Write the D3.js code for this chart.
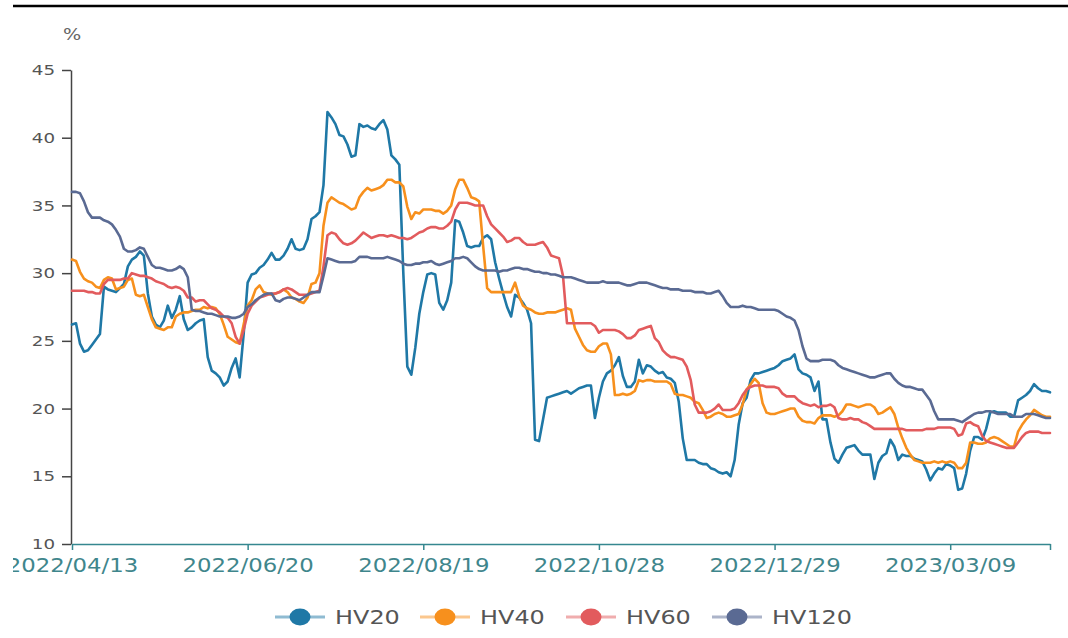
<!DOCTYPE html>
<html><head><meta charset="utf-8">
<script src="https://cdn.jsdelivr.net/npm/d3@7"></script>
<style>html,body{margin:0;padding:0;background:#fff;} svg{display:block;}</style>
</head><body>
<svg id="chart" width="1068" height="638"></svg>
<script>
// x axis: trading-day index, labelled every 44 days
const tickLabels = ["2022/04/13","2022/06/20","2022/08/19","2022/10/28","2022/12/29","2023/03/09"];
const tickDays = [0,44,88,132,176,220];
const yTicks = [10,15,20,25,30,35,40,45];
const seriesNames = ["HV20","HV40","HV60","HV120"];

const hv20 = [
26.2,26.3,24.8,24.2,24.3,24.7,25.1,25.5,29.0,28.8,
28.7,28.6,28.9,29.2,30.5,31.0,31.2,31.6,31.3,28.5,
26.8,26.2,26.0,26.5,27.6,26.7,27.3,28.3,26.6,25.8,
26.0,26.3,26.5,26.6,23.8,22.8,22.6,22.3,21.7,22.0,
23.0,23.7,22.3,25.5,29.3,29.9,30.0,30.4,30.6,31.0,
31.5,31.0,31.0,31.3,31.8,32.5,31.8,31.7,31.8,32.5,
34.0,34.2,34.5,36.5,41.9,41.5,41.0,40.2,40.1,39.5,
38.6,38.7,41.0,40.8,40.9,40.7,40.6,41.0,41.3,40.6,
38.7,38.4,38.0,30.0,23.1,22.5,24.5,27.0,28.6,29.9,
30.0,29.9,27.8,27.3,28.0,29.3,33.9,33.8,33.0,32.0,
31.9,32.0,32.0,32.6,32.8,32.5,30.8,29.6,28.5,27.5,
26.8,28.4,28.2,27.8,27.3,26.3,17.7,17.6,19.2,20.8,
20.9,21.0,21.1,21.2,21.3,21.1,21.3,21.5,21.6,21.7,
21.7,19.3,20.8,22.0,22.6,22.8,23.2,23.8,22.4,21.6,
21.6,22.0,23.6,22.6,23.2,23.1,22.8,22.6,22.7,22.3,
22.2,21.9,20.5,17.8,16.2,16.2,16.2,16.0,15.9,15.9,
15.6,15.5,15.3,15.2,15.3,15.0,16.2,18.8,20.4,20.8,
22.1,22.6,22.6,22.7,22.8,22.9,23.0,23.2,23.5,23.6,
23.7,24.0,22.9,22.6,22.5,22.3,21.3,22.0,19.2,19.2,
17.5,16.3,16.0,16.6,17.1,17.2,17.3,16.9,16.6,16.6,
16.6,14.8,16.0,16.5,16.7,17.7,17.2,16.2,16.6,16.5,
16.5,16.3,16.2,16.1,15.5,14.7,15.2,15.6,15.5,15.9,
15.8,15.6,14.0,14.1,15.2,16.9,17.9,17.9,17.7,18.5,
19.7,19.8,19.7,19.7,19.7,19.4,19.4,20.6,20.8,21.0,
21.3,21.8,21.5,21.3,21.3,21.2];

const hv40 = [
31.0,30.9,30.1,29.6,29.4,29.3,29.0,28.9,29.5,29.7,
29.6,28.8,28.9,29.0,29.5,29.6,28.4,28.3,28.4,27.5,
26.6,26.0,25.9,25.8,26.0,26.0,26.8,27.0,27.1,27.1,
27.2,27.3,27.3,27.5,27.4,27.5,27.4,27.0,26.2,25.3,
25.1,24.9,24.8,26.2,27.6,28.0,28.8,29.1,28.6,28.5,
28.4,28.5,28.6,28.8,28.6,28.2,28.1,27.9,27.8,28.2,
29.2,29.3,30.0,33.5,35.2,35.6,35.4,35.2,35.1,34.9,
34.7,34.8,35.6,36.0,36.3,36.1,36.2,36.3,36.5,36.9,
36.9,36.7,36.7,36.4,34.9,34.0,34.5,34.4,34.7,34.7,
34.7,34.6,34.6,34.4,34.6,35.0,36.2,36.9,36.9,36.3,
35.6,35.5,35.3,32.0,28.9,28.6,28.6,28.6,28.6,28.6,
28.6,29.3,28.3,27.6,27.4,27.3,27.1,27.0,27.0,27.1,
27.1,27.1,27.2,27.3,27.4,27.3,25.9,25.3,24.7,24.3,
24.2,24.2,24.6,24.8,24.8,24.0,21.0,21.0,21.1,21.0,
21.1,21.3,22.1,22.0,22.1,22.1,22.0,22.0,22.0,22.0,
21.8,21.1,21.0,21.0,20.9,20.8,20.5,20.4,19.9,19.3,
19.4,19.6,19.7,19.6,19.4,19.4,19.5,19.6,20.3,21.4,
21.8,22.2,21.9,20.4,19.7,19.6,19.6,19.7,19.8,19.9,
20.0,20.0,19.4,19.1,19.0,19.0,18.9,19.3,19.5,19.5,
19.5,19.4,19.5,19.8,20.3,20.3,20.2,20.1,20.2,20.3,
20.3,20.1,19.6,19.7,19.9,20.1,19.6,18.6,17.8,17.1,
16.6,16.2,16.1,16.0,16.0,16.0,16.1,16.0,16.1,16.0,
16.1,16.0,15.6,15.6,16.0,17.5,17.5,17.4,17.4,17.5,
17.8,17.9,17.8,17.6,17.4,17.2,17.2,18.3,18.8,19.2,
19.5,19.9,19.7,19.5,19.4,19.4];

const hv60 = [
28.7,28.7,28.7,28.7,28.6,28.6,28.5,28.5,29.2,29.5,
29.5,29.5,29.5,29.6,29.6,30.0,29.9,29.8,29.8,29.7,
29.6,29.4,29.3,29.2,29.0,28.9,29.0,28.9,28.7,28.2,
28.2,27.9,28.0,28.0,27.7,27.4,27.3,27.1,26.8,26.7,
26.3,25.3,24.8,25.8,27.0,27.6,27.9,28.2,28.3,28.4,
28.5,28.5,28.6,28.8,28.9,28.8,28.6,28.4,28.4,28.4,
28.5,28.6,28.7,30.5,32.8,33.0,32.9,32.5,32.2,32.1,
32.2,32.4,32.7,33.0,32.8,32.6,32.7,32.8,32.8,32.7,
32.8,32.7,32.6,32.6,32.5,32.6,32.8,33.0,33.1,33.3,
33.4,33.4,33.3,33.3,33.5,33.8,34.7,35.2,35.2,35.2,
35.1,35.0,35.0,35.0,34.2,33.6,33.3,33.0,32.7,32.3,
32.4,32.6,32.6,32.3,32.1,32.1,32.1,32.2,32.3,31.9,
31.3,31.2,31.1,29.8,26.3,26.3,26.3,26.3,26.3,26.3,
26.3,26.1,25.6,25.8,25.8,25.8,25.8,25.7,25.5,25.2,
25.2,25.4,25.8,25.9,26.0,26.1,25.2,24.9,24.3,24.0,
23.8,23.8,23.7,23.6,23.1,22.1,20.3,19.7,19.7,19.7,
19.8,20.0,20.3,19.9,19.9,19.9,20.0,20.4,21.0,21.4,
21.6,21.7,21.7,21.7,21.6,21.6,21.6,21.5,21.1,20.9,
20.9,20.9,20.6,20.4,20.3,20.2,20.3,20.1,20.2,20.2,
20.3,20.1,19.3,19.2,19.2,19.3,19.2,19.2,19.0,18.9,
18.7,18.5,18.5,18.5,18.5,18.5,18.5,18.5,18.5,18.4,
18.4,18.4,18.4,18.4,18.5,18.5,18.5,18.6,18.6,18.6,
18.6,18.5,18.0,18.1,18.9,19.0,18.8,18.7,18.0,17.6,
17.5,17.4,17.3,17.2,17.1,17.1,17.1,17.5,17.9,18.2,
18.3,18.3,18.3,18.2,18.2,18.2];

const hv120 = [
36.0,36.0,35.9,35.3,34.5,34.1,34.1,34.1,33.9,33.8,
33.6,33.2,32.7,31.8,31.6,31.6,31.7,31.9,31.8,31.2,
30.6,30.4,30.4,30.3,30.2,30.2,30.3,30.5,30.3,29.7,
27.3,27.2,27.2,27.1,27.0,27.0,26.9,26.8,26.8,26.8,
26.7,26.7,26.8,27.0,27.5,27.7,28.0,28.2,28.4,28.5,
28.5,28.0,27.9,28.1,28.2,28.2,28.1,28.0,28.2,28.4,
28.6,28.6,28.6,29.8,31.1,31.0,30.9,30.8,30.8,30.8,
30.8,30.9,31.2,31.2,31.2,31.1,31.1,31.1,31.1,31.2,
31.1,31.0,30.9,30.7,30.6,30.6,30.7,30.7,30.8,30.8,
30.9,30.7,30.6,30.7,30.8,30.9,31.1,31.1,31.2,31.1,
30.8,30.5,30.3,30.2,30.2,30.2,30.2,30.1,30.2,30.2,
30.3,30.4,30.4,30.3,30.3,30.2,30.1,30.1,30.0,30.0,
29.9,29.9,29.8,29.7,29.7,29.7,29.6,29.5,29.4,29.3,
29.3,29.3,29.3,29.4,29.3,29.3,29.3,29.3,29.2,29.1,
29.1,29.2,29.3,29.3,29.3,29.2,29.1,29.0,28.9,28.9,
28.8,28.8,28.8,28.7,28.7,28.7,28.6,28.6,28.6,28.5,
28.5,28.6,28.7,28.3,27.8,27.5,27.5,27.5,27.6,27.5,
27.5,27.4,27.3,27.3,27.3,27.3,27.3,27.2,27.0,26.8,
26.7,26.5,25.8,24.6,23.7,23.5,23.5,23.5,23.6,23.6,
23.6,23.5,23.2,23.0,22.9,22.8,22.7,22.6,22.5,22.4,
22.3,22.3,22.4,22.5,22.6,22.6,22.2,21.9,21.7,21.6,
21.6,21.5,21.4,21.4,21.0,20.6,19.8,19.2,19.2,19.2,
19.2,19.2,19.1,19.0,19.2,19.4,19.6,19.7,19.7,19.8,
19.8,19.7,19.6,19.6,19.6,19.6,19.4,19.4,19.4,19.6,
19.6,19.6,19.5,19.4,19.3,19.3];

const seriesData = [hv20, hv40, hv60, hv120];
const colors = ["#1f78a6", "#f7901d", "#e25b5d", "#5a6a93"];

const W = 1068, H = 638;
const X0 = 72, X1 = 1050, YT = 70, YB = 544;
const n = hv20.length;
const FONT = "'DejaVu Sans', Verdana, sans-serif";

const x = d3.scaleLinear().domain([0, n - 1]).range([X0, X1]);
const y = d3.scaleLinear().domain([10, 45]).range([YB, YT]);

const svg = d3.select("#chart");
const defs = svg.append("defs");
defs.append("clipPath").attr("id", "clipL")
  .append("rect").attr("x", 13).attr("y", 0).attr("width", W - 13).attr("height", H);

// top rule
svg.append("line").attr("x1", 13).attr("x2", W).attr("y1", 6).attr("y2", 6)
  .attr("stroke", "#000").attr("stroke-width", 2.6);

// unit label
svg.append("text").attr("transform", `translate(72,40) scale(1.2,1)`)
  .attr("text-anchor", "middle").attr("font-family", FONT).attr("font-size", 16)
  .attr("fill", "#666").text("%");

// y axis
const yAxis = d3.axisLeft(y).tickValues(yTicks).tickSize(9).tickSizeOuter(0);
const gy = svg.append("g").attr("transform", `translate(${X0 - 1},0)`).call(yAxis);
gy.select(".domain").attr("stroke", "#444").attr("stroke-width", 1.5);
gy.selectAll(".tick line").attr("stroke", "#444").attr("stroke-width", 1.5);
gy.selectAll(".tick text")
  .attr("font-family", FONT).attr("font-size", 14.5).attr("fill", "#555")
  .attr("x", -16 / 1.26).attr("transform", "scale(1.26,1)");

// x axis
const xTickVals = tickDays.concat([n - 1]);
const xAxis = d3.axisBottom(x).tickValues(xTickVals)
  .tickFormat(d => { const k = tickDays.indexOf(d); return k >= 0 ? tickLabels[k] : ""; })
  .tickSize(6).tickSizeOuter(0).tickPadding(9);
const gx = svg.append("g").attr("clip-path", "url(#clipL)")
  .append("g").attr("transform", `translate(0,${YB})`).call(xAxis);
gx.select(".domain").attr("stroke", "#35878f").attr("stroke-width", 1.5);
gx.selectAll(".tick line").attr("stroke", "#35878f").attr("stroke-width", 1.5);
gx.selectAll(".tick text")
  .attr("font-family", FONT).attr("font-size", 19).attr("fill", "#3f868c")
  .attr("transform", "scale(1.2,1)");

// series lines
const line = d3.line().x((d, i) => x(i)).y(d => y(d));
seriesData.forEach((data, k) => {
  svg.append("path").datum(data)
    .attr("fill", "none").attr("stroke", colors[k])
    .attr("stroke-width", 2.6).attr("stroke-linejoin", "round").attr("stroke-linecap", "round")
    .attr("d", line);
});

// legend
const legendX = [300, 445, 591, 737];
const LY = 617;
seriesNames.forEach((name, k) => {
  const g = svg.append("g").attr("transform", `translate(${legendX[k]},${LY})`);
  g.append("line").attr("x1", -25).attr("x2", 25).attr("y1", 0).attr("y2", 0)
    .attr("stroke", colors[k]).attr("stroke-opacity", 0.5).attr("stroke-width", 3);
  g.append("ellipse").attr("rx", 10.5).attr("ry", 8.5).attr("fill", colors[k]);
  g.append("text").attr("transform", "translate(35,7) scale(1.26,1)")
    .attr("font-family", FONT).attr("font-size", 19).attr("fill", "#555").text(name);
});
</script>
</body></html>
